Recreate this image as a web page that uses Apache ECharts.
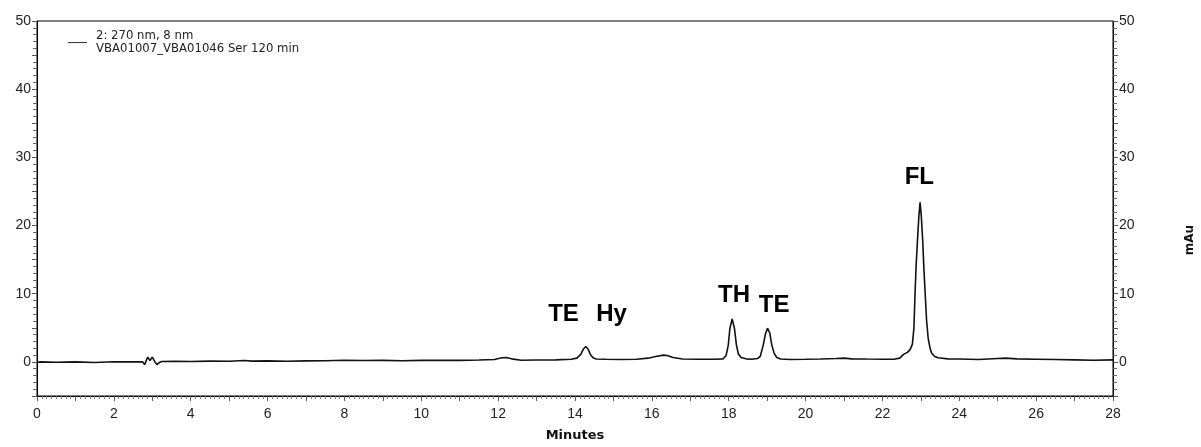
<!DOCTYPE html>
<html>
<head>
<meta charset="utf-8">
<script src="https://cdn.jsdelivr.net/npm/echarts@6/dist/echarts.min.js"></script>
<style>
  html, body { margin: 0; padding: 0; background: #fff; }
  #chart { width: 1201px; height: 447px; }
</style>
</head>
<body>
<div id="chart"></div>
<script>
// chromatogram trace (minutes / mAu)
const minutes = [
  0.00, 0.10, 0.50, 1.00, 1.50, 2.00, 2.50, 2.75, 2.80, 2.88, 2.94, 3.00, 3.08, 3.12, 3.18, 3.25,
  3.60, 4.00, 4.50, 5.00, 5.40, 5.60, 6.00, 6.50, 7.00, 7.50, 8.00, 8.50, 9.00, 9.50, 10.00,
  10.50, 11.00, 11.50, 11.90, 12.10, 12.20, 12.35, 12.60, 13.00, 13.50, 13.90, 14.05, 14.15,
  14.22, 14.28, 14.34, 14.40, 14.47, 14.55, 14.80, 15.20, 15.60, 15.90, 16.10, 16.30, 16.40,
  16.55, 16.80, 17.20, 17.60, 17.85, 17.93, 17.99, 18.03, 18.09, 18.15, 18.20, 18.25, 18.32,
  18.45, 18.60, 18.75, 18.82, 18.90, 18.96, 19.01, 19.07, 19.12, 19.18, 19.25, 19.35, 19.60,
  20.00, 20.40, 20.80, 21.00, 21.20, 21.60, 22.00, 22.30, 22.45, 22.55, 22.65, 22.72, 22.78,
  22.82, 22.85, 22.88, 22.91, 22.95, 22.98, 23.01, 23.05, 23.08, 23.11, 23.15, 23.19, 23.24,
  23.28, 23.36, 23.45, 23.70, 24.00, 24.50, 25.00, 25.20, 25.50, 26.00, 26.50, 27.00, 27.50, 28.00
]
const mAu = [
  -0.05, 0.00, -0.05, 0.00, -0.08, 0.02, 0.00, 0.00, -0.40, 0.70, 0.20, 0.70, -0.10, -0.40, -0.10, 0.05,
  0.10, 0.05, 0.12, 0.10, 0.20, 0.12, 0.15, 0.10, 0.15, 0.18, 0.25, 0.20, 0.22, 0.18, 0.22,
  0.25, 0.22, 0.28, 0.35, 0.60, 0.65, 0.45, 0.25, 0.28, 0.30, 0.38, 0.55, 1.10,
  1.90, 2.25, 1.90, 1.10, 0.60, 0.42, 0.38, 0.35, 0.40, 0.55, 0.80, 1.00, 0.95,
  0.65, 0.42, 0.40, 0.40, 0.45, 0.90, 2.50, 4.90, 6.30, 4.90, 2.50, 1.20, 0.65,
  0.45, 0.40, 0.50, 0.80, 2.50, 4.20, 4.95, 4.20, 2.50, 1.30, 0.65, 0.42, 0.35,
  0.38, 0.42, 0.50, 0.55, 0.45, 0.42, 0.40, 0.38, 0.55, 1.10, 1.40, 1.80, 2.60,
  5.00, 10.30, 14.50, 17.60, 21.50, 23.40, 21.50, 17.60, 13.50, 10.30, 6.00, 3.50, 2.00,
  1.30, 0.80, 0.60, 0.45, 0.42, 0.35, 0.50, 0.55, 0.45, 0.40, 0.35, 0.30, 0.25, 0.30
]

// peak annotations (text anchored in data units)
const peakNames = ['TE', 'Hy', 'TH', 'TE', 'FL']
const peakTime = [13.70, 14.95, 18.14, 19.18, 22.96]
const peakLevel = [7.0, 7.0, 9.8, 8.3, 27.1]

const xLabels = [0, 2, 4, 6, 8, 10, 12, 14, 16, 18, 20, 22, 24, 26, 28]
const yLabels = [0, 10, 20, 30, 40, 50]

const traceName = '2: 270 nm, 8 nm\nVBA01007_VBA01046 Ser 120 min'

const chart = echarts.init(document.getElementById('chart'))

const tickFont = { fontFamily: 'Liberation Sans', fontSize: 14, color: '#222' }

const yAxisBase = (pos) => ({
  type: 'value',
  position: pos,
  min: -5,
  max: 50,
  interval: 5,
  splitLine: { show: false },
  axisLine: { show: true, lineStyle: { color: '#000', width: 1 } },
  axisTick: { show: true, length: 5, lineStyle: { color: '#555' } },
  minorTick: { show: true, splitNumber: 5, length: 4, lineStyle: { color: '#666' } },
  axisLabel: {
    ...tickFont,
    margin: 6,
    formatter: (v) => (yLabels.indexOf(v) >= 0 ? String(v) : '')
  }
})

chart.setOption({
  animation: false,
  backgroundColor: '#fff',
  grid: {
    left: 37,
    right: 88,
    top: 21,
    bottom: 48,
    show: true,
    borderColor: '#000',
    borderWidth: 1
  },
  legend: {
    data: [traceName],
    left: 63,
    top: 25,
    itemWidth: 19,
    itemHeight: 1,
    icon: 'path://M0,0L20,0L20,1L0,1Z',
    selectedMode: false,
    textStyle: {
      fontFamily: 'DejaVu Sans',
      fontSize: 11.7,
      lineHeight: 12.6,
      color: '#222',
      padding: [0, 0, 0, 4]
    }
  },
  xAxis: {
    type: 'value',
    min: 0,
    max: 28,
    interval: 1,
    name: 'Minutes',
    nameLocation: 'middle',
    nameGap: 33,
    nameTextStyle: { fontFamily: 'DejaVu Sans', fontWeight: 'bold', fontSize: 13, color: '#111' },
    splitLine: { show: false },
    axisLine: { show: true, onZero: false, lineStyle: { color: '#000', width: 1 } },
    axisTick: { show: true, length: 5, lineStyle: { color: '#555' } },
    minorTick: { show: true, splitNumber: 8, length: 3, lineStyle: { color: '#777' } },
    axisLabel: {
      ...tickFont,
      margin: 11,
      formatter: (v) => (xLabels.indexOf(v) >= 0 ? String(v) : '')
    }
  },
  yAxis: [yAxisBase('left'), yAxisBase('right')],
  graphic: [
    {
      type: 'text',
      x: 1190,
      y: 240,
      rotation: Math.PI / 2,
      style: {
        text: 'mAu',
        font: 'bold 12px "DejaVu Sans"',
        fill: '#111',
        align: 'center',
        verticalAlign: 'middle'
      }
    }
  ],
  series: [
    {
      name: traceName,
      type: 'line',
      data: minutes.map((t, i) => [t, mAu[i]]),
      symbol: 'none',
      color: '#222',
      lineStyle: { color: '#111', width: 1.6 }
    },
    {
      name: 'peaks',
      type: 'scatter',
      symbolSize: 1,
      itemStyle: { color: 'rgba(0,0,0,0)', opacity: 1 },
      data: peakNames.map((n, i) => ({ name: n, value: [peakTime[i], peakLevel[i]] })),
      label: {
        show: true,
        position: 'inside',
        formatter: (p) => p.name,
        fontFamily: 'Liberation Sans',
        fontWeight: 'bold',
        fontSize: 24,
        color: '#000',
        textBorderWidth: 0
      }
    }
  ]
})
</script>
</body>
</html>
